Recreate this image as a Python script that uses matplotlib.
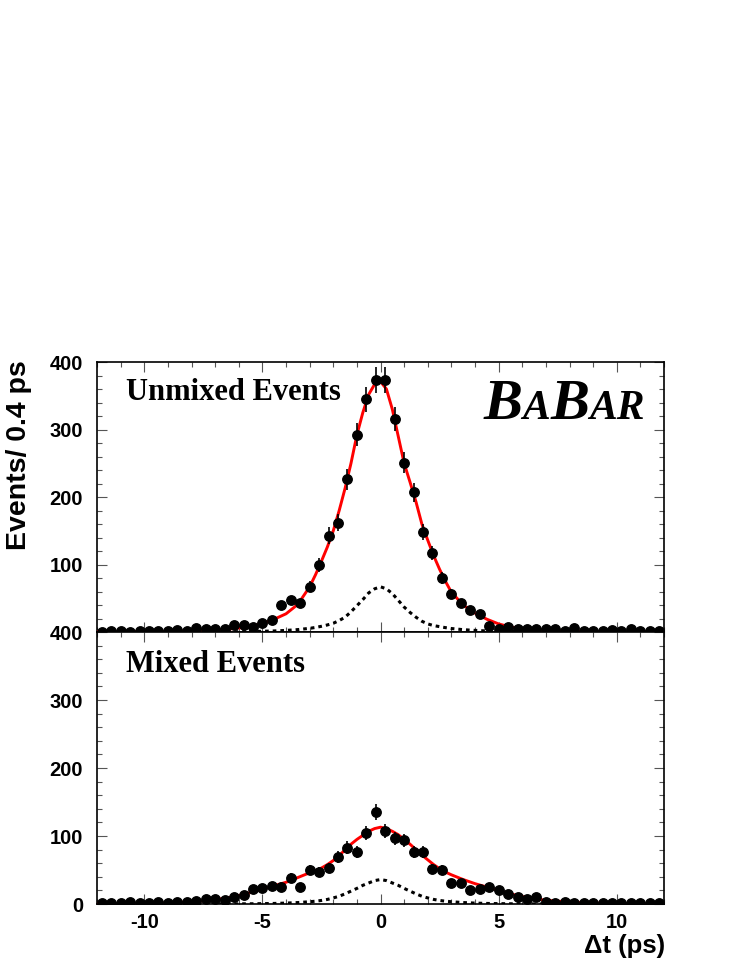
import matplotlib
matplotlib.use('Agg')
import matplotlib.pyplot as plt
from matplotlib.ticker import MultipleLocator, FixedLocator
import numpy as np

# bin centres of the Delta t histogram (0.4 ps bins)
bin_t = [-11.8, -11.4, -11.0, -10.6, -10.2, -9.8, -9.4, -9.0, -8.6, -8.2,
         -7.8, -7.4, -7.0, -6.6, -6.2, -5.8, -5.4, -5.0, -4.6, -4.2,
         -3.8, -3.4, -3.0, -2.6, -2.2, -1.8, -1.4, -1.0, -0.6, -0.2,
         0.2, 0.6, 1.0, 1.4, 1.8, 2.2, 2.6, 3.0, 3.4, 3.8,
         4.2, 4.6, 5.0, 5.4, 5.8, 6.2, 6.6, 7.0, 7.4, 7.8,
         8.2, 8.6, 9.0, 9.4, 9.8, 10.2, 10.6, 11.0, 11.4, 11.8]

unmixed = [0.5, 2, 1, 0.5, 1, 1, 2, 2, 3, 1.5,
           6, 4, 4, 5, 10, 10, 8, 13, 18, 40,
           47, 43, 67, 99, 143, 162, 226, 292, 345, 374,
           374, 315, 251, 207, 148, 117, 80, 56, 43, 33,
           26, 9, 5, 7, 4, 5, 4, 4, 4, 2,
           6, 1, 1, 1, 3, 1, 4, 1, 1, 1]

mixed = [1, 1, 1, 3, 1, 1, 2.5, 1, 3.5, 3.5,
         4.5, 8, 8, 6, 11, 13, 21.5, 24, 27, 24.5,
         39, 24.5, 50, 47.5, 52.5, 69, 83, 77, 105, 135,
         108, 96.5, 94, 76, 77, 51.5, 50, 31, 31, 20.5,
         22, 24.5, 20.5, 15.5, 11, 8, 11, 3.5, 1, 3.5,
         1, 1, 1, 1, 1, 1, 1, 1, 1, 1]

# fit curves
curve_t = [-12, -11, -10, -9, -8, -7, -6.5, -6, -5.5, -5, -4.5, -4, -3.5, -3,
           -2.75, -2.5, -2.25, -2, -1.75, -1.5, -1.25, -1, -0.75, -0.5, -0.25,
           0, 0.25, 0.5, 0.75, 1, 1.25, 1.5, 1.75, 2, 2.25, 2.5, 2.75, 3,
           3.5, 4, 4.5, 5, 5.5, 6, 6.5, 7, 8, 9, 10, 11, 12]

unmixed_fit = [0.3, 0.4, 0.6, 1.0, 1.6, 3, 4.2, 6, 8.5, 12.5, 19, 27, 41, 67,
               85, 105, 126, 150, 180, 213, 250, 292, 325, 352, 367,
               371, 360, 330, 290, 250, 222, 193, 160, 136, 113, 93, 75, 59,
               40, 28, 19, 12, 7.5, 5, 3.5, 2.5, 1.3, 0.8, 0.5, 0.3, 0.2]

unmixed_bkg = [0.1, 0.1, 0.1, 0.15, 0.2, 0.3, 0.4, 0.5, 0.8, 1.1, 1.6, 2.4, 3.6, 5.5,
               6.8, 8.5, 10.5, 13, 17, 22, 30, 39, 48, 58, 64,
               67, 64, 57, 47, 37, 29, 22, 16, 12, 9.5, 8, 6.5, 5.2,
               3.5, 2.4, 1.6, 1.1, 0.8, 0.5, 0.4, 0.3, 0.2, 0.15, 0.1, 0.1, 0.1]

mixed_fit = [0.3, 0.5, 0.9, 1.7, 3.3, 6.5, 9, 12.5, 17, 22, 27, 32, 39, 46,
             49, 53, 58, 64, 71, 80, 88, 95, 101, 107, 111,
             113, 111, 107, 102, 95, 88, 80, 72, 65, 58, 52, 47, 43,
             36, 30, 25, 20, 15, 11, 8, 5.5, 3, 1.5, 0.8, 0.4, 0.2]

mixed_bkg = [0.05, 0.05, 0.05, 0.1, 0.1, 0.15, 0.2, 0.3, 0.4, 0.6, 0.9, 1.4, 2.2, 3.4,
             4.2, 5.3, 6.8, 9, 11.5, 15, 19, 23, 27.5, 31, 34.5,
             36, 34.5, 31, 27.5, 23, 19, 15, 11.5, 9, 6.8, 5.3, 4.2, 3.4,
             2.2, 1.4, 0.9, 0.6, 0.4, 0.3, 0.2, 0.15, 0.1, 0.1, 0.05, 0.05, 0.05]

x_ticks = [-10, -5, 0, 5, 10]

plt.rcParams['axes.unicode_minus'] = False
sans = ['Liberation Sans', 'DejaVu Sans']
serif = ['Liberation Serif', 'DejaVu Serif']

fig = plt.figure(figsize=(7.47, 9.67), dpi=100)
ax1 = fig.add_axes([0.1299, 0.3464, 0.759, 0.2792])
ax2 = fig.add_axes([0.1299, 0.0651, 0.759, 0.2813])


def style_labels(ax):
    for lab in ax.get_xticklabels() + ax.get_yticklabels():
        lab.set_fontfamily(sans)
        lab.set_fontweight('bold')
        lab.set_fontsize(14.5)


def draw_panel(ax, counts, fit, bkg):
    ax.plot(curve_t, bkg, color='black', lw=2.2, linestyle=(0, (1.2, 1.3)), zorder=2)
    ax.plot(curve_t, fit, color='red', lw=2.1, zorder=3)
    ax.errorbar(bin_t, counts, yerr=np.sqrt(counts), fmt='o', color='black',
                ms=6.8, elinewidth=1.2, capsize=0, zorder=4)
    ax.set_xlim(-12, 12)
    ax.set_ylim(0, 400)
    ax.xaxis.set_major_locator(FixedLocator(x_ticks))
    ax.xaxis.set_minor_locator(MultipleLocator(1))
    ax.yaxis.set_major_locator(MultipleLocator(100))
    ax.yaxis.set_minor_locator(MultipleLocator(20))
    ax.tick_params(which='both', direction='in', top=True, right=True,
                   width=0.8, color='#555555')
    ax.tick_params(which='major', length=7.5)
    ax.tick_params(which='minor', length=3.6)
    ax.tick_params(axis='y', pad=10)
    ax.tick_params(axis='x', pad=6.5)
    for sp in ax.spines.values():
        sp.set_linewidth(1.2)
    style_labels(ax)


draw_panel(ax1, unmixed, unmixed_fit, unmixed_bkg)
draw_panel(ax2, mixed, mixed_fit, mixed_bkg)

ax1.tick_params(axis='x', labelbottom=False)
ax1.set_yticks([100, 200, 300, 400])
style_labels(ax1)

ax1.text(0.051, 0.859, 'Unmixed Events', transform=ax1.transAxes,
         fontfamily=serif, fontweight='bold', fontsize=22, va='baseline')
ax2.text(0.051, 0.854, 'Mixed Events', transform=ax2.transAxes,
         fontfamily=serif, fontweight='bold', fontsize=22, va='baseline')

# BABAR logo with small capitals
renderer = fig.canvas.get_renderer()
x = 0.682
for s, size in [('B', 42), ('A', 30), ('B', 42), ('AR', 30)]:
    t = ax1.text(x, 0.789, s, transform=ax1.transAxes, fontfamily=serif,
                 fontweight='bold', fontstyle='italic', fontsize=size, va='baseline')
    bb = t.get_window_extent(renderer)
    x = ax1.transAxes.inverted().transform((bb.x1, bb.y0))[0]

fig.text(19 / 747, 1 - 455 / 967, 'Events/ 0.4 ps', rotation=90, ha='center', va='center',
         fontfamily=sans, fontweight='bold', fontsize=20.5)
fig.text(665 / 747, 1 - 953 / 967, '\u0394t (ps)', ha='right', va='baseline',
         fontfamily=sans, fontweight='bold', fontsize=18.5)

fig.savefig('out.png', dpi=100)
